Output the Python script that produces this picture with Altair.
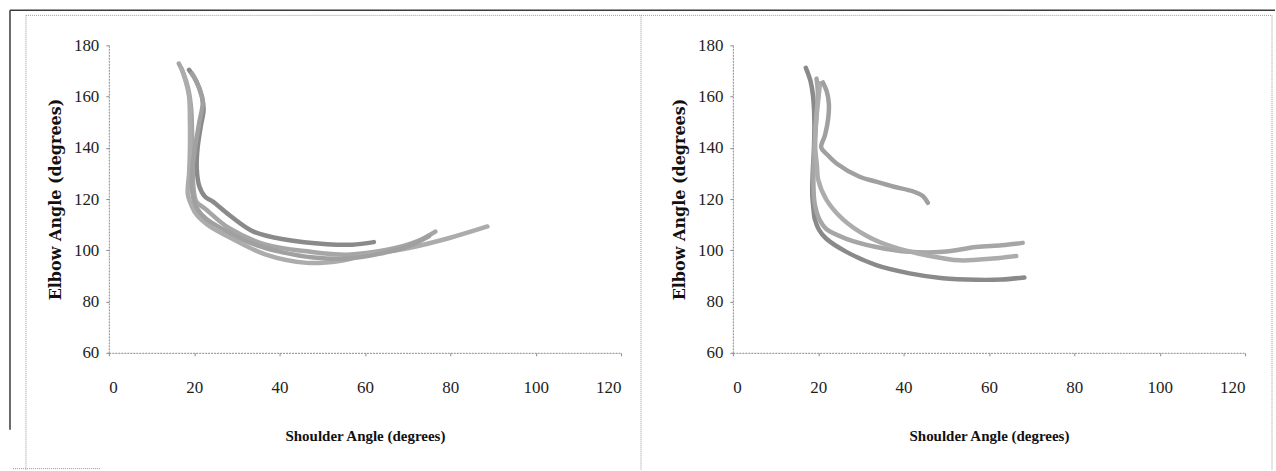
import altair as alt
import pandas as pd

# Shoulder / elbow joint-angle trajectories (degrees), two conditions, four trials each
left_a_x = [18.8, 20.5, 21.8, 22.2, 21.5, 20.8, 20.6, 21.2, 22.5, 24.4, 28.2, 33.9, 41.6, 51.1, 57.0, 62.1]
left_a_y = [170.4, 166, 160, 155, 148, 140, 132, 125, 121, 119, 113.8, 107.3, 104.1, 102.4, 102.2, 103.2]
left_b_x = [16.4, 17.5, 18.6, 19.3, 19.5, 19.6, 19.8, 20.5, 22.5, 28.2, 36.8, 46.4, 55.9, 65.5, 72.2, 76.5]
left_b_y = [172.9, 169, 163, 155, 145, 135, 125, 119, 116.3, 108.6, 102.2, 99.6, 98.3, 100.3, 103.5, 107.3]
left_c_x = [17.0, 18.0, 18.8, 19.0, 19.0, 18.8, 18.5, 19.5, 20.6, 23.5, 27.2, 36.8, 46.4, 54.0, 60.7, 70.3, 79.8, 88.7]
left_c_y = [171.0, 166, 160, 150, 140, 130, 122, 117, 113.8, 109.5, 106, 98.3, 95.1, 95.8, 98.3, 100.9, 104.8, 109.3]
left_d_x = [19.5, 21.0, 22.0, 21.2, 20.2, 19.5, 19.6, 20.8, 23.0, 27.0, 33.0, 40.0, 48.0, 56.0, 63.0, 70.0, 75.0]
left_d_y = [169, 164, 158, 150, 140, 130, 122, 116, 112, 108, 103, 99.5, 97.2, 96.8, 98.5, 101.5, 105.5]

right_a_x = [17.1, 18.2, 18.8, 19.1, 19.0, 18.7, 18.6, 18.9, 19.2, 20.2, 21.9, 26.6, 33.6, 41.4, 49.2, 57.0, 63.0, 68.3]
right_a_y = [171.2, 166, 160, 150, 140, 130, 122, 116, 112.1, 108, 104.5, 99.4, 94.2, 91.0, 89.1, 88.5, 88.6, 89.4]
right_b_x = [19.6, 19.9, 19.7, 19.4, 19.1, 18.9, 18.9, 19.2, 20.3, 21.9, 26.6, 33.6, 41.4, 49.2, 57.0, 63.0, 67.9]
right_b_y = [167, 162, 155, 148, 140, 132, 124, 118, 112, 108.3, 104.5, 101.3, 99.4, 99.4, 101.3, 102.0, 102.9]
right_c_x = [20.4, 20.1, 19.7, 19.4, 19.3, 19.7, 20.0, 21.9, 25.8, 31.3, 37.5, 45.3, 53.1, 60.9, 66.4]
right_c_y = [165.2, 160, 154, 147, 140, 133, 127.5, 119.8, 112.1, 105.7, 101.3, 98.1, 96.1, 96.8, 97.8]
right_d_x = [21.1, 22.0, 22.5, 22.3, 21.6, 20.7, 22.0, 24.3, 29.7, 33.5, 37.5, 42.2, 44.5, 45.7]
right_d_y = [165.5, 162, 157, 151, 145, 140.2, 137.5, 133.9, 128.7, 126.8, 124.9, 123.0, 121.2, 118.5]

x_ticks = [0, 20, 40, 60, 80, 100, 120]
y_ticks = [60, 80, 100, 120, 140, 160, 180]

trials = {
    "left": [("L1", left_a_x, left_a_y), ("L2", left_b_x, left_b_y),
             ("L3", left_c_x, left_c_y), ("L4", left_d_x, left_d_y)],
    "right": [("R1", right_a_x, right_a_y), ("R2", right_b_x, right_b_y),
              ("R3", right_c_x, right_c_y), ("R4", right_d_x, right_d_y)],
}
shades = {"L1": "#8a8a8a", "L2": "#a6a6a6", "L3": "#acacac", "L4": "#a0a0a0",
          "R1": "#929292", "R2": "#8e8e8e", "R3": "#b0b0b0", "R4": "#a0a0a0"}

SERIF = "Liberation Serif"
PLOT_W, PLOT_H = 513, 308


def trial_frame(panel):
    rows = []
    for name, xs, ys in trials[panel]:
        for i, (xv, yv) in enumerate(zip(xs, ys)):
            rows.append({"trial": name, "idx": i, "shoulder": xv, "elbow": yv})
    return pd.DataFrame(rows)


def panel_chart(panel, frame_rules):
    df = trial_frame(panel)
    names = [t[0] for t in trials[panel]]
    lines = alt.Chart(df).mark_line(
        strokeWidth=4.5, strokeCap="round", strokeJoin="round", interpolate="catmull-rom"
    ).encode(
        x=alt.X("shoulder:Q", scale=alt.Scale(domain=[0, 120], nice=False, zero=False),
                axis=alt.Axis(values=x_ticks, title="Shoulder Angle (degrees)", grid=False,
                              domainColor="#8a8a8a", domainDash=[2, 1], tickColor="#8a8a8a",
                              tickSize=3, labelFont=SERIF, labelFontSize=17, labelColor="#1e1e1e",
                              labelPadding=24, titleFont=SERIF, titleFontSize=15,
                              titleFontWeight="bold", titleColor="#111", titlePadding=33)),
        y=alt.Y("elbow:Q", scale=alt.Scale(domain=[60, 180], nice=False, zero=False),
                axis=alt.Axis(values=y_ticks, title="Elbow Angle (degrees)", grid=False,
                              domainColor="#8a8a8a", domainDash=[2, 1], tickColor="#8a8a8a",
                              tickSize=3, labelFont=SERIF, labelFontSize=17, labelColor="#1e1e1e",
                              labelPadding=7, titleFont="DejaVu Serif", titleFontSize=16,
                              titleFontWeight="bold", titleColor="#111", titlePadding=10)),
        detail="trial:N",
        order="idx:Q",
        color=alt.Color("trial:N", scale=alt.Scale(domain=names, range=[shades[n] for n in names]),
                        legend=None),
    )
    layers = [lines] + frame_rules
    return alt.layer(*layers).properties(width=PLOT_W, height=PLOT_H)


frame_df = pd.DataFrame({"k": [0]})


def rule(x, y, x2=None, y2=None, color="#9a9a9a", width=1.0, dash=None):
    enc = {"x": alt.value(x), "y": alt.value(y)}
    if x2 is not None:
        enc["x2"] = alt.value(x2)
    if y2 is not None:
        enc["y2"] = alt.value(y2)
    kw = {"color": color, "strokeWidth": width}
    if dash:
        kw["strokeDash"] = dash
    return alt.Chart(frame_df).mark_rule(**kw).encode(**enc)


# Page frame, positioned relative to the first panel's plot origin
left_frame = [
    rule(-99, -35, x2=1168, color="#3a3a3a", width=1.5),
    rule(-99, -35, y2=385, color="#3a3a3a", width=1.5),
    rule(-83, -30, y2=426, dash=[1, 1]),
    rule(-83, -30, x2=1165, dash=[1, 1]),
    rule(533, -30, y2=426, dash=[1, 1]),
    rule(1165, -30, y2=426, dash=[1, 1]),
    rule(-96, 424, x2=-8, dash=[1, 1]),
]

left = panel_chart("left", left_frame)
right = panel_chart("right", [])

chart = alt.hconcat(left, right, spacing=112, bounds="flush").configure(
    padding={"left": 9, "top": 9, "right": 0, "bottom": 0},
    background="white",
).configure_view(stroke=None)

chart.save("out.html", embed_options={"renderer": "svg", "actions": False})
